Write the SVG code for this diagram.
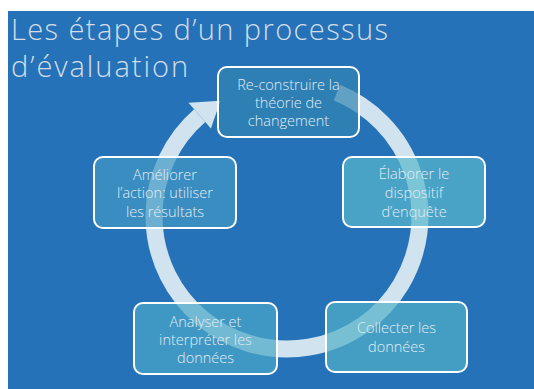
<svg xmlns="http://www.w3.org/2000/svg" width="534" height="389" viewBox="0 0 534 389">
<style>
.title{font-family:"Open Sans","Liberation Sans",sans-serif;font-weight:300;font-size:29px;fill:#d3dde7}
.box{stroke:#ffffff;stroke-width:2;fill-opacity:0.7}
.lbl{font-family:"Open Sans","Liberation Sans",sans-serif;font-weight:300;font-size:14.5px;fill:#e2ecf3;text-anchor:middle}
.ring{fill:none;stroke:#d0e3ee;stroke-width:17}
</style>
<rect x="0" y="0" width="534" height="389" fill="#ffffff"/>
<rect x="8" y="11" width="526" height="378" fill="#2672b9"/>
<text class="title" x="11" y="40" textLength="377" lengthAdjust="spacing">Les étapes d’un processus</text>
<text class="title" x="11" y="77" textLength="177" lengthAdjust="spacing">d’évaluation</text>
<g id="connectors">
<path class="ring" d="M336.9 92.7 A133 133 0 1 1 199.7 115.6"/>
<polygon points="188.5,102.7 220.5,100.8 210.9,128.5" fill="#d0e3ee"/>
</g>
<g id="node1">
<rect class="box" x="218" y="67" width="141" height="70" rx="9" fill="#3085b2"/>
<text class="lbl" x="288.5" y="90">Re-construire la</text>
<text class="lbl" x="288.5" y="108">théorie de</text>
<text class="lbl" x="288.5" y="126">changement</text>
</g>
<g id="node2">
<rect class="box" x="343" y="157" width="142" height="70" rx="9" fill="#58b8cc"/>
<text class="lbl" x="414" y="179">Élaborer le</text>
<text class="lbl" x="414" y="198">dispositif</text>
<text class="lbl" x="414" y="217">d’enquête</text>
</g>
<g id="node3">
<rect class="box" x="326" y="302" width="141" height="70" rx="9" fill="#51b1c8"/>
<text class="lbl" x="396.5" y="333">Collecter les</text>
<text class="lbl" x="396.5" y="352">données</text>
</g>
<g id="node4">
<rect class="box" x="134" y="303" width="143" height="71" rx="9" fill="#4aa6c7"/>
<text class="lbl" x="205.5" y="327">Analyser et</text>
<text class="lbl" x="205.5" y="345">interpréter les</text>
<text class="lbl" x="205.5" y="363">données</text>
</g>
<g id="node5">
<rect class="box" x="94" y="157" width="142" height="71" rx="9" fill="#4399c4"/>
<text class="lbl" x="165" y="180">Améliorer</text>
<text class="lbl" x="165" y="198">l’action: utiliser</text>
<text class="lbl" x="165" y="217">les résultats</text>
</g>
</svg>
